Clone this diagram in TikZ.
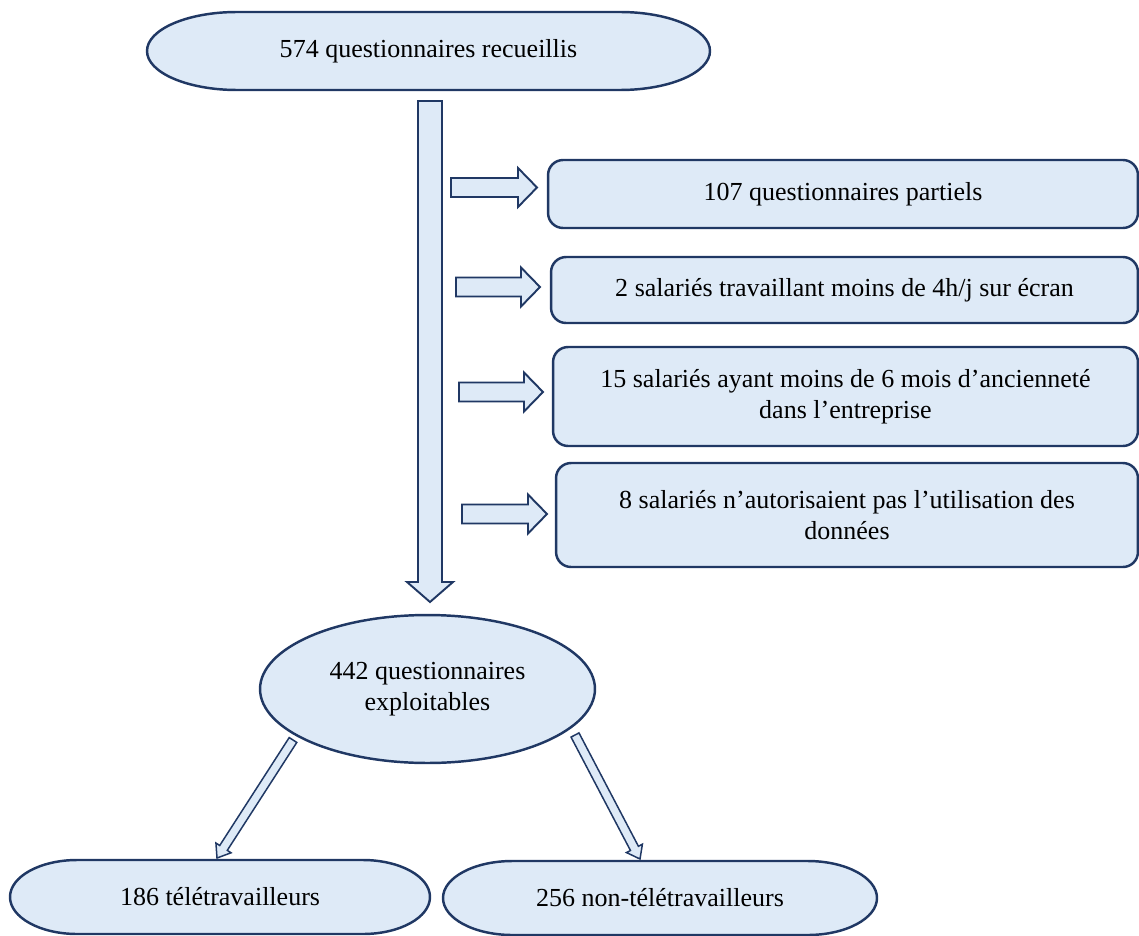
\documentclass[tikz,border=0pt]{standalone}
\usepackage{fontspec}
\setmainfont{Liberation Serif}
\usetikzlibrary{calc,shapes.geometric}

\definecolor{hellblau}{RGB}{222,234,247}
\definecolor{dunkelblau}{RGB}{32,56,100}

% Blockpfeil: [Optionen], Start, Spitze, halbe Schaftbreite, halbe Kopfbreite, Kopflaenge (px).
\newcommand{\blockpfeil}[6][]{%
  \coordinate (kb) at ($(#3)!#6*0.02cm!(#2)$);
  \filldraw[pfeil,#1] ($(#2)!#4*0.02cm!90:(#3)$) -- ($(kb)!#4*0.02cm!90:(#3)$)
    -- ($(kb)!#5*0.02cm!90:(#3)$) -- (#3) -- ($(kb)!#5*0.02cm!-90:(#3)$)
    -- ($(kb)!#4*0.02cm!-90:(#3)$) -- ($(#2)!#4*0.02cm!-90:(#3)$) -- cycle;
}

% Kapsel: Name, x, y, halbe Breite, halbe Hoehe, Text (px).
\newcommand{\kapsel}[6]{%
  \filldraw[rahmen] ({#2-0.68*#4},{#3-#5}) -- ({#2+0.68*#4},{#3-#5})
    arc[start angle=90, end angle=-90, x radius={0.32*#4*0.02cm}, y radius={#5*0.02cm}]
    -- ({#2-0.68*#4},{#3+#5})
    arc[start angle=270, end angle=90, x radius={0.32*#4*0.02cm}, y radius={#5*0.02cm}]
    -- cycle;
  \node[txt] (#1) at (#2,#3) {#6};
}

\begin{document}
\begin{tikzpicture}[x=0.02cm, y=-0.02cm]
  \useasboundingbox (0,0) rectangle (1139,936);

  \tikzstyle{txt}=[font=\fontsize{14.8}{17.5}\selectfont, align=center, inner sep=0pt]
  \tikzstyle{rahmen}=[draw=dunkelblau, fill=hellblau, line width=1.4pt]
  \tikzstyle{kasten}=[rahmen, txt, rounded corners=0.3cm]
  \tikzstyle{pfeil}=[draw=dunkelblau, fill=hellblau, line width=1.1pt, line join=miter]

  % Oben.
  \kapsel{ges}{428.5}{51}{281.5}{39}{574 questionnaires recueillis}

  % Ausschluesse.
  \node[kasten, minimum width=11.8cm, minimum height=1.36cm] (b1) at (843,194)
    {107 questionnaires partiels};
  \node[kasten, minimum width=11.74cm, minimum height=1.32cm] (b2) at (844.5,290)
    {2 salariés travaillant moins de 4h/j sur écran};
  \node[kasten, minimum width=11.7cm, minimum height=1.98cm] (b3) at (845.5,396.5)
    {15 salariés ayant moins de 6 mois d’ancienneté\\dans l’entreprise};
  \node[kasten, minimum width=11.64cm, minimum height=2.08cm] (b4) at (847,515)
    {8 salariés n’autorisaient pas l’utilisation des\\données};

  % Mitte.
  \node[rahmen, txt, ellipse, minimum width=6.7cm, minimum height=2.96cm] (aus) at (427.5,689)
    {442 questionnaires\\exploitables};

  % Unten.
  \kapsel{tele}{220}{897}{210}{37}{186 télétravailleurs}
  \kapsel{nontele}{660}{898}{217}{37}{256 non-télétravailleurs}

  % Pfeile.
  \coordinate (h0) at (430,101);
  \coordinate (h1) at (430,602);
  \coordinate (r1a) at (451,187.5);
  \coordinate (r1b) at (537,187.5);
  \coordinate (r2a) at (456,287);
  \coordinate (r2b) at (540,287);
  \coordinate (r3a) at (459,392);
  \coordinate (r3b) at (543,392);
  \coordinate (r4a) at (462,514);
  \coordinate (r4b) at (547,514);
  \coordinate (la) at (293,740);
  \coordinate (lb) at (217,858);
  \coordinate (ra) at (575,735);
  \coordinate (rb) at (640,859);

  \blockpfeil{h0}{h1}{12}{23}{20}
  \blockpfeil{r1a}{r1b}{9.5}{19.5}{19}
  \blockpfeil{r2a}{r2b}{9.5}{19.5}{19}
  \blockpfeil{r3a}{r3b}{9.5}{19.5}{19}
  \blockpfeil{r4a}{r4b}{9.5}{19.5}{19}
  \blockpfeil[line width=0.85pt]{la}{lb}{4.5}{9}{12}
  \blockpfeil[line width=0.85pt]{ra}{rb}{4.5}{9}{12}
\end{tikzpicture}
\end{document}
